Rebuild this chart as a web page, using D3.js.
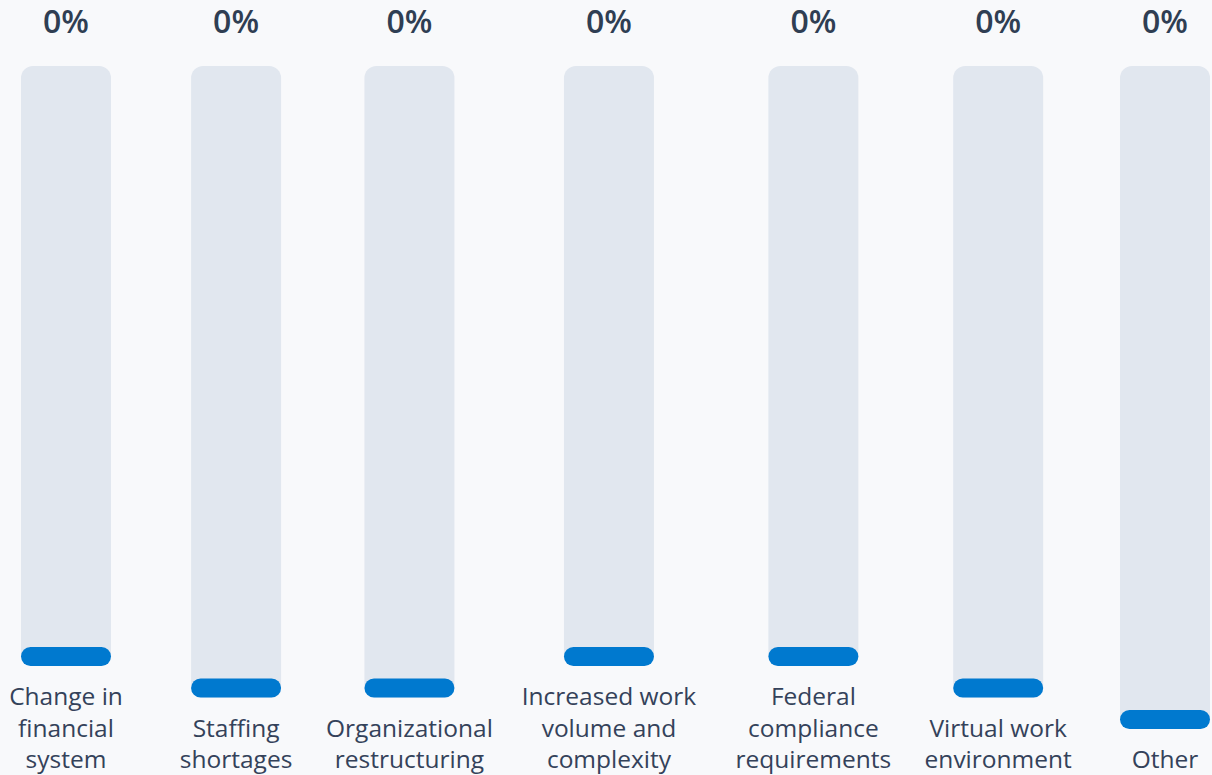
<!DOCTYPE html>
<html>
<head>
<meta charset="utf-8">
<script src="https://cdn.jsdelivr.net/npm/d3@7"></script>
<style>
  body { margin: 0; background: #f8f9fb; overflow: hidden; }
  svg { display: block; font-family: "Open Sans", Lato, sans-serif; }
</style>
</head>
<body>
<svg id="target"></svg>
<script>
// Chart data: categories, how their labels wrap, and the values (%)
const categories = ["Change in financial system", "Staffing shortages", "Organizational restructuring",
    "Increased work volume and complexity", "Federal compliance requirements", "Virtual work environment", "Other"];
const labelLines = [["Change in", "financial", "system"], ["Staffing", "shortages"], ["Organizational", "restructuring"],
    ["Increased work", "volume and", "complexity"], ["Federal", "compliance", "requirements"], ["Virtual work", "environment"], ["Other"]];
const values = [0, 0, 0, 0, 0, 0, 0];

let width = 1212, height = 775;
let barW = 90, pillH = 19, trackTop = 66;
let lineH = 31.5, lastBaseline = 768, labelGap = 39;

function main() {
    let svg = d3.select("#target")
        .attr("width", width)
        .attr("height", height);

    // Columns take room according to the length of their label
    let weights = categories.map(c => Math.max(c.length, 20) + 29);
    let centers = [];
    let acc = 0;
    weights.forEach(w => { centers.push(acc + w / 2); acc += w; });

    let x = d3.scaleLinear()
        .domain([centers[0], centers[centers.length - 1]])
        .range([66, 1165]);

    let data = categories.map((c, i) => {
        let n = labelLines[i].length;
        let bottom = lastBaseline - (n - 1) * lineH - labelGap;
        return {name: c, lines: labelLines[i], value: values[i], cx: x(centers[i]), bottom: bottom};
    });

    let col = svg.selectAll("g.col")
        .data(data)
        .enter()
        .append("g")
        .attr("class", "col");

    // Grey track
    col.append("rect")
        .attr("x", d => d.cx - barW / 2)
        .attr("y", trackTop)
        .attr("width", barW)
        .attr("height", d => d.bottom - trackTop)
        .attr("rx", 12)
        .attr("fill", "#e1e7ef");

    // Blue value bar (pill, minimum height for 0%)
    col.append("rect")
        .attr("x", d => d.cx - barW / 2)
        .attr("y", d => {
            let y = d3.scaleLinear().domain([0, 100]).range([d.bottom, trackTop]);
            return Math.min(y(d.value), d.bottom - pillH);
        })
        .attr("width", barW)
        .attr("height", d => {
            let y = d3.scaleLinear().domain([0, 100]).range([d.bottom, trackTop]);
            return d.bottom - Math.min(y(d.value), d.bottom - pillH);
        })
        .attr("rx", pillH / 2)
        .attr("fill", "#0079cf");

    // Percentage on top
    col.append("text")
        .attr("x", d => d.cx)
        .attr("y", 33)
        .attr("text-anchor", "middle")
        .attr("font-size", 32)
        .attr("font-weight", 600)
        .attr("fill", "#2f3e53")
        .text(d => d3.format(".0%")(d.value / 100));

    // Category labels, bottom aligned
    col.append("text")
        .attr("text-anchor", "middle")
        .attr("font-size", 24.5)
        .attr("fill", "#34425a")
        .each(function (d) {
            let t = d3.select(this);
            let n = d.lines.length;
            d.lines.forEach((line, j) => {
                t.append("tspan")
                    .attr("x", d.cx)
                    .attr("y", lastBaseline - (n - 1 - j) * lineH)
                    .text(line);
            });
        });
}

main();
</script>
</body>
</html>
